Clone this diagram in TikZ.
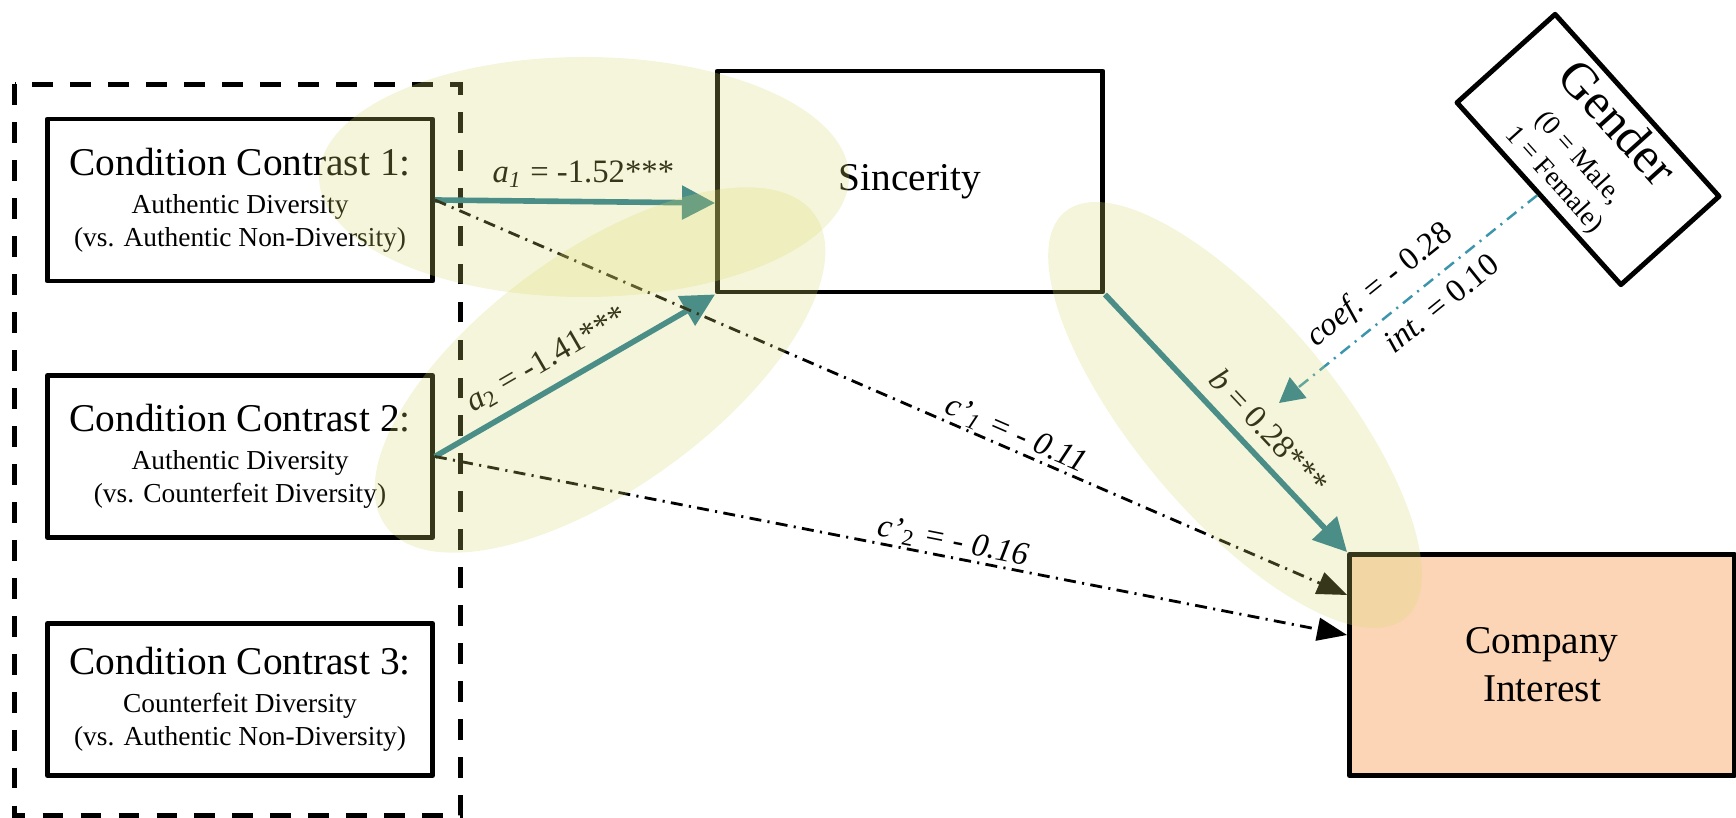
\documentclass[tikz,border=0pt]{standalone}
\usepackage{fontspec}
\setmainfont{Liberation Serif}
\usetikzlibrary{arrows.meta}
\definecolor{pathteal}{HTML}{1B7590}
\definecolor{modblue}{HTML}{3B95AD}
\definecolor{outpeach}{HTML}{FBD5B5}
\definecolor{glowyellow}{HTML}{D9D96E}

\tikzset{
  varbox/.style={draw=black, line width=1.4pt, line join=round, align=center, inner sep=2pt},
  contrastbox/.style={varbox, minimum width=3.85cm, minimum height=1.62cm, font=\fontsize{7.8}{9.4}\selectfont},
  bigbox/.style={varbox, minimum width=3.85cm, minimum height=2.21cm, font=\fontsize{11.2}{13.6}\selectfont},
  patharrow/.style={draw=pathteal, line width=1.6pt, -{Triangle[length=9.4pt,width=9.4pt]}},
  directarrow/.style={draw=black, line width=0.8pt, dash pattern=on 3.4pt off 1.8pt on 0.6pt off 1.8pt, -{Triangle[length=8.5pt,width=6.5pt]}},
  modarrow/.style={draw=modblue, line width=0.7pt, dash pattern=on 3.4pt off 1.8pt on 0.6pt off 1.8pt, -{Triangle[length=7pt,width=7.5pt,color=pathteal]}},
  coeflabel/.style={font=\fontsize{9.3}{11}\selectfont},
  glow/.style={fill=glowyellow, fill opacity=0.25}
}
\newcommand\bigline[1]{{\fontsize{11.2}{13}\selectfont #1}}

\begin{document}
\begin{tikzpicture}
  \useasboundingbox (0,0) rectangle (17.36,-8.18);
  % contrast group
  \draw[line width=1.3pt, dash pattern=on 5.9pt off 4.9pt] (0.145,-0.845) rectangle (4.605,-8.155);
  \node[contrastbox] (cc1) at (2.40,-2.00) {\bigline{Condition Contrast 1:}\\[1.4pt] Authentic Diversity\\(vs. Authentic Non-Diversity)};
  \node[contrastbox] (cc2) at (2.40,-4.565) {\bigline{Condition Contrast 2:}\\[1.4pt] Authentic Diversity\\(vs. Counterfeit Diversity)};
  \node[contrastbox, minimum height=1.52cm] (cc3) at (2.40,-6.995) {\bigline{Condition Contrast 3:}\\[1.4pt] Counterfeit Diversity\\(vs. Authentic Non-Diversity)};
  % mediator, outcome, moderator
  \node[bigbox] (sinc) at (9.10,-1.815) {Sincerity};
  \node[bigbox, fill=outpeach] (ci) at (15.42,-6.65) {Company\\Interest};
  \node[varbox, rotate=-48, minimum width=2.45cm, minimum height=1.32cm, font=\fontsize{7.8}{9.4}\selectfont] (gender) at (15.88,-1.495) {\fontsize{14.4}{16}\selectfont Gender\\[3pt](0 = Male,\\1 = Female)};
  % paths
  \draw[patharrow] (cc1.east) -- ([yshift=-2.15mm]sinc.west) node[coeflabel, pos=0.53, above] {\textit{a}\textsubscript{\textit{1}} = -1.52***};
  \draw[patharrow] (cc2.east) -- (sinc.south west) node[coeflabel, pos=0.45, above, sloped] {\textit{a}\textsubscript{2} = -1.41***};
  \draw[patharrow] (sinc.south east) -- (ci.north west) node[coeflabel, pos=0.6, above, sloped] {\textit{b} = 0.28***};
  \draw[directarrow] (cc1.east) -- ([yshift=7mm]ci.west) node[coeflabel, pos=0.63, above=-3pt, sloped] {\textit{c’\textsubscript{1} = - 0.11}};
  \draw[directarrow] (cc2.east) -- ([yshift=3mm]ci.west) node[coeflabel, pos=0.565, above=-3pt, sloped] {\textit{c’}\textsubscript{2} \textit{= - 0.16}};
  \coordinate (modtip) at (12.79,-4.03);
  \draw[modarrow] (gender.south) -- (modtip) node[coeflabel, pos=0.54, above, sloped] {\textit{coef.} = - 0.28} node[coeflabel, pos=0.43, below, sloped] {\textit{int.} = 0.10};
  % highlights
  \fill[glow] (5.84,-1.77) ellipse [x radius=2.65, y radius=1.20];
  \fill[glow, rotate around={36:(6.00,-3.70)}] (6.00,-3.70) ellipse [x radius=2.65, y radius=1.18];
  \fill[glow, rotate around={-50:(12.35,-4.15)}] (12.35,-4.15) ellipse [x radius=2.65, y radius=1.00];
\end{tikzpicture}
\end{document}
